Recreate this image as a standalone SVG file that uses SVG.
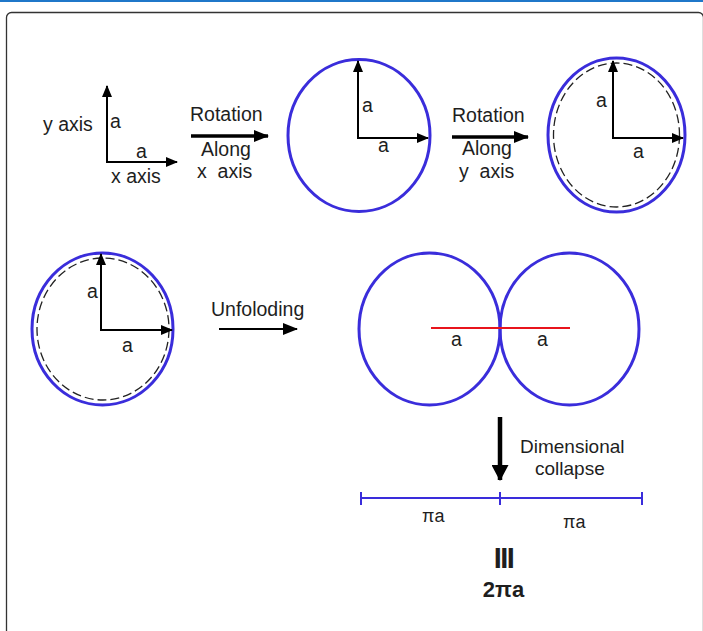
<svg xmlns="http://www.w3.org/2000/svg" width="703" height="631" viewBox="0 0 703 631">
<style>
text{font-family:"Liberation Sans",Arial,sans-serif;fill:#1e1e1e;font-size:19.5px;white-space:pre}
.circ{fill:none;stroke:#3a2ddb;stroke-width:3}
.dash{fill:none;stroke:#222;stroke-width:1.3;stroke-dasharray:9 4}
.ax{stroke:#000;stroke-width:2;fill:none}
.arr{stroke:#000;stroke-width:3.5;fill:none}
text.pi{font-size:18px}
text.eq{font-size:29px;font-weight:bold;letter-spacing:-1.5px}
text.res{font-size:22px;font-weight:bold}
text.dc{font-size:19px}
</style>
<defs>
<marker id="ah" viewBox="0 0 12 10" refX="11" refY="5" markerWidth="12" markerHeight="10" markerUnits="userSpaceOnUse" orient="auto"><path d="M0,0 L12,5 L0,10 z" fill="#000"/></marker>
<marker id="ahb" viewBox="0 0 15 12" refX="14" refY="6" markerWidth="15" markerHeight="12" markerUnits="userSpaceOnUse" orient="auto"><path d="M0,0 L15,6 L0,12 z" fill="#000"/></marker>
<marker id="ahd" viewBox="0 0 16 17" refX="15" refY="8.5" markerWidth="16" markerHeight="17" markerUnits="userSpaceOnUse" orient="auto"><path d="M0,0 L16,8.5 L0,17 z" fill="#000"/></marker>
</defs>
<rect x="0" y="0" width="703" height="2" fill="#1f77c9"/>
<rect x="6.5" y="12.5" width="697" height="640" rx="5" fill="none" stroke="#333" stroke-width="1.3"/>

<g id="axes">
<line class="ax" x1="107" y1="162" x2="107" y2="86" marker-end="url(#ah)"/>
<line class="ax" x1="106" y1="162" x2="177" y2="162" marker-end="url(#ah)"/>
<text x="43" y="131">y axis</text>
<text x="110" y="128">a</text>
<text x="136" y="158">a</text>
<text x="111" y="183">x axis</text>
</g>

<g id="circle1">
<ellipse class="circ" cx="359" cy="135.5" rx="71" ry="76"/>
<line class="ax" x1="358" y1="138" x2="358" y2="61" marker-end="url(#ah)"/>
<line class="ax" x1="357" y1="138" x2="428" y2="138" marker-end="url(#ah)"/>
<text x="362" y="112">a</text>
<text x="378" y="152">a</text>
</g>

<g id="circle2">
<ellipse class="circ" cx="616.5" cy="135" rx="68.5" ry="77"/>
<ellipse class="dash" cx="616.5" cy="135" rx="63" ry="72"/>
<line class="ax" x1="613" y1="138" x2="613" y2="61" marker-end="url(#ah)"/>
<line class="ax" x1="612" y1="138" x2="683" y2="138" marker-end="url(#ah)"/>
<text x="596" y="107">a</text>
<text x="633" y="158">a</text>
</g>

<g id="circle3">
<ellipse class="circ" cx="102.5" cy="329" rx="70.5" ry="76"/>
<ellipse class="dash" cx="103" cy="329" rx="66" ry="71"/>
<line class="ax" x1="101" y1="330" x2="101" y2="254" marker-end="url(#ah)"/>
<line class="ax" x1="100" y1="330" x2="172" y2="330" marker-end="url(#ah)"/>
<text x="87" y="298">a</text>
<text x="122" y="352">a</text>
</g>

<g id="twocircles">
<ellipse class="circ" cx="429.5" cy="329" rx="70.5" ry="76"/>
<ellipse class="circ" cx="569.5" cy="329" rx="69.5" ry="76"/>
<line x1="431" y1="328" x2="570" y2="328" stroke="#e8141c" stroke-width="2"/>
<text x="451" y="346">a</text>
<text x="537" y="346">a</text>
</g>

<g id="segment">
<g stroke="#3a2ddb" stroke-width="2">
<line x1="361" y1="498" x2="642" y2="498"/>
<line x1="361" y1="492" x2="361" y2="505"/>
<line x1="500" y1="492" x2="500" y2="505"/>
<line x1="642" y1="492" x2="642" y2="505"/>
</g>
<text class="pi" x="422" y="522">πa</text>
<text class="pi" x="563" y="528">πa</text>
<text class="eq" x="503.5" y="568" text-anchor="middle">III</text>
<text class="res" x="503.5" y="597" text-anchor="middle">2πa</text>
</g>

<g id="connectors">
<line class="arr" x1="191" y1="136" x2="268" y2="136" marker-end="url(#ahb)"/>
<text x="190" y="121">Rotation</text>
<text x="201" y="156">Along</text>
<text x="197" y="178">x  axis</text>

<line class="arr" x1="452" y1="137" x2="528" y2="137" marker-end="url(#ahb)"/>
<text x="452" y="122">Rotation</text>
<text x="462" y="155">Along</text>
<text x="459" y="178">y  axis</text>

<line class="ax" x1="219" y1="329" x2="297" y2="329" stroke-width="2.5" marker-end="url(#ahb)"/>
<text x="211" y="316">Unfoloding</text>

<line x1="500" y1="417" x2="500" y2="480" stroke="#000" stroke-width="4.5" marker-end="url(#ahd)"/>
<text class="dc" x="520" y="453">Dimensional</text>
<text class="dc" x="535" y="475">collapse</text>
</g>
</svg>
